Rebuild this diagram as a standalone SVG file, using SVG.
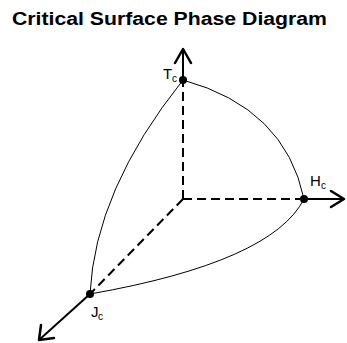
<svg xmlns="http://www.w3.org/2000/svg" width="347" height="343" viewBox="0 0 347 343">
<style>
.t{font-family:"Liberation Sans",Arial,sans-serif;fill:#000}
.lb{font-size:15px}
.sb{font-size:10px}
.dash{stroke:#000;stroke-width:2;stroke-dasharray:9 5;fill:none}
.ax{stroke:#000;stroke-width:2;fill:none}
.cv{stroke:#000;stroke-width:1;fill:none}
.hd{stroke:#000;stroke-width:2.5;fill:none;stroke-linecap:round;stroke-linejoin:round}
</style>
<rect width="347" height="343" fill="#fff"/>
<text class="t" x="12" y="25" font-size="18" font-weight="bold" textLength="315" lengthAdjust="spacingAndGlyphs">Critical Surface Phase Diagram</text>
<g id="connectors">
<line class="dash" x1="183" y1="199" x2="183" y2="82"/>
<line class="dash" x1="183" y1="199" x2="302" y2="199"/>
<line class="dash" x1="183" y1="199" x2="92" y2="292"/>
<path class="cv" d="M183,80 Q285,108 304,199"/>
<path class="cv" d="M183,80 Q95,190 90,294"/>
<path class="cv" d="M90,294 Q272,262 304,199"/>
<line class="ax" x1="183" y1="80" x2="183" y2="49"/>
<polyline class="hd" points="175,63 183,49 191,63"/>
<line class="ax" x1="304" y1="199" x2="344" y2="199"/>
<polyline class="hd" points="331,191 344,199 331,207"/>
<line class="ax" x1="90" y1="294" x2="39" y2="340"/>
<polyline class="hd" points="41,325 39,340 54,338"/>
</g>
<g id="Tc"><circle cx="183" cy="80" r="4"/><text class="t lb" x="163" y="79">T<tspan class="sb" x="172" y="82">c</tspan></text></g>
<g id="Hc"><circle cx="304" cy="199" r="4"/><text class="t lb" x="310" y="186">H<tspan class="sb" x="321" y="189">c</tspan></text></g>
<g id="Jc"><circle cx="90" cy="294" r="4"/><text class="t lb" x="91" y="317">J<tspan class="sb" x="98" y="320">c</tspan></text></g>
</svg>
